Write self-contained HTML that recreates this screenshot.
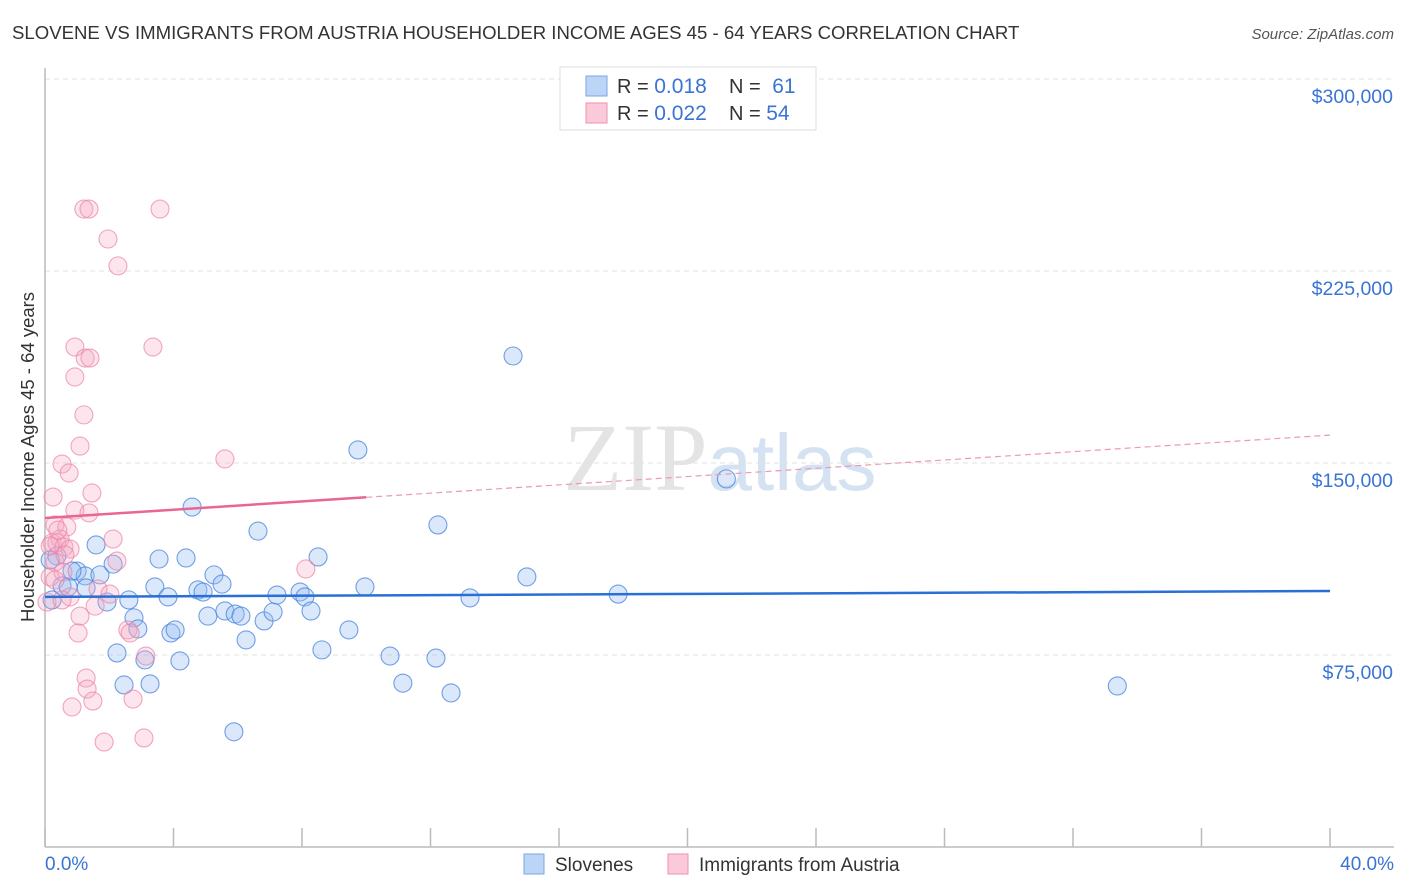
<!DOCTYPE html>
<html><head><meta charset="utf-8"><style>
body{margin:0;background:#fff;font-family:"Liberation Sans",sans-serif}
svg{display:block}
</style></head><body>
<svg id="c" width="1406" height="892">
<text x="12" y="39" font-size="18.6" fill="#333">SLOVENE VS IMMIGRANTS FROM AUSTRIA HOUSEHOLDER INCOME AGES 45 - 64 YEARS CORRELATION CHART</text>
<text x="1394" y="39" font-size="15" fill="#555" font-style="italic" text-anchor="end">Source: ZipAtlas.com</text>
<text x="720" y="490" font-size="96" fill="#e4e4e4" text-anchor="middle" font-family="Liberation Serif,serif">ZIP<tspan fill="#d4e2f2" font-family="Liberation Sans,sans-serif" font-size="80">atlas</tspan></text>
<g id="grid"></g>
<g id="marks"></g>
<text transform="translate(34,457) rotate(-90)" font-size="18.5" fill="#333" text-anchor="middle">Householder Income Ages 45 - 64 years</text>
<text x="45" y="870" font-size="19" fill="#3a74d4">0.0%</text>
<text x="1394" y="870" font-size="19" fill="#3a74d4" text-anchor="end">40.0%</text>
<g>
<rect x="560" y="67" width="256" height="63" fill="#fff" stroke="#ddd"/>
<rect x="586" y="76" width="21" height="20" fill="#bcd5f7" stroke="#7aa6e6"/>
<rect x="586" y="103" width="21" height="20" fill="#fbcada" stroke="#ef8fae"/>
<text x="617" y="93" font-size="20" fill="#333">R = <tspan fill="#3a74d4" font-size="21">0.018</tspan></text>
<text x="729" y="93" font-size="20" fill="#333">N = <tspan fill="#3a74d4" dx="6" font-size="21">61</tspan></text>
<text x="617" y="120" font-size="20" fill="#333">R = <tspan fill="#3a74d4" font-size="21">0.022</tspan></text>
<text x="729" y="120" font-size="20" fill="#333">N = <tspan fill="#3a74d4" font-size="21">54</tspan></text>
</g>
<g>
<rect x="524" y="854" width="20" height="20" fill="#bcd5f7" stroke="#7aa6e6"/>
<text x="555" y="871" font-size="19" fill="#333">Slovenes</text>
<rect x="668" y="854" width="20" height="20" fill="#fbcada" stroke="#ef8fae"/>
<text x="699" y="871" font-size="19" fill="#333">Immigrants from Austria</text>
</g>
</svg>
<script>
const yTicks=[75000,150000,225000,300000];
const yTickLabels=["$75,000","$150,000","$225,000","$300,000"];
const xTicks=[0,4,8,12,16,20,24,28,32,36,40];
const bluePts=[[0.37,113.7],[0.53,102],[0.72,101.6],[1.0,107.8],[1.25,105.9],[1.59,118],[1.71,106.3],[1.28,101.2],[1.93,95.7],[2.12,110.5],[2.24,75.8],[2.46,63.3],[2.61,96.5],[2.77,89.5],[2.89,85.2],[3.11,73.1],[3.27,63.7],[3.42,101.6],[3.55,112.5],[3.83,97.7],[3.92,83.6],[4.05,84.8],[4.2,72.7],[4.39,112.9],[4.58,132.8],[4.76,100.4],[4.92,99.6],[5.07,90.2],[5.26,106.3],[5.51,102.7],[5.6,92.2],[5.92,91],[6.1,90.2],[6.26,80.9],[5.88,45],[6.63,123.4],[6.82,88.3],[7.1,91.8],[7.22,98.4],[7.94,99.6],[8.09,97.7],[8.28,92.2],[8.5,113.3],[8.62,77],[9.46,84.8],[9.74,155.1],[9.96,101.6],[10.74,74.6],[11.14,64],[12.17,73.8],[12.23,125.8],[12.64,60.2],[13.23,97.3],[14.57,191.8],[15.0,105.5],[17.84,98.8],[21.21,143.8],[33.38,62.9],[0.16,112.1],[0.84,107.8],[0.22,96.5]];
const pinkPts=[[1.21,249.2],[1.37,249.2],[3.58,249.2],[1.96,237.5],[2.27,227],[0.93,195.3],[3.36,195.3],[1.25,191],[1.4,191],[0.93,183.6],[1.21,168.8],[1.09,156.6],[0.53,149.6],[0.75,146.1],[0.25,136.7],[1.46,138.3],[0.93,131.6],[1.37,130.5],[2.12,120.3],[0.31,125.8],[0.68,125],[0.47,120.3],[0.22,118.8],[0.37,118.8],[0.59,117.2],[0.78,116.4],[0.31,111.3],[0.16,105.5],[0.06,95.7],[0.56,107.4],[0.78,97.7],[2.24,111.7],[1.65,100.8],[2.02,98.8],[1.56,94.1],[1.09,90.2],[1.03,83.6],[2.58,84.8],[2.65,83.6],[3.14,74.6],[2.74,57.8],[1.28,66],[1.31,61.7],[1.49,57],[0.84,54.7],[1.84,41],[3.08,42.6],[5.6,151.6],[8.12,108.6],[0.31,104.3],[0.53,96.5],[0.62,114.1],[0.4,123.8],[0.16,117.6]];
const blueTrend=[97.7,100.0];
const pinkTrend=[128.5,160.9];
const pinkSolidEnd=10;
const X0=45,X1=1330,YB=847;
const xs=p=>X0+(X1-X0)*p/40;
const ys=v=>YB-v*192/75000;
const NS="http://www.w3.org/2000/svg";
function mk(t,a,parent){const e=document.createElementNS(NS,t);for(const k in a)e.setAttribute(k,a[k]);parent.appendChild(e);return e;}
const grid=document.getElementById('grid'),marks=document.getElementById('marks');
yTicks.forEach((v,i)=>{
 const l=mk('line',{x1:X0,x2:1394,y1:ys(v),y2:ys(v),stroke:'#e2e2e2','stroke-dasharray':'5,4'},grid);
 
 
 const t=mk('text',{x:1393,y:ys(v)+24,'font-size':19.5,fill:'#3a74d4','text-anchor':'end'},grid);
 t.textContent=yTickLabels[i];
 
 
});
const ax=mk('line',{x1:X0,x2:X0,y1:68,y2:YB,stroke:'#bbb','stroke-width':1.5},grid);


const bx=mk('line',{x1:X0,x2:1394,y1:YB,y2:YB,stroke:'#bbb','stroke-width':1.5},grid);


xTicks.forEach(p=>{const t=mk('line',{x1:xs(p),x2:xs(p),y1:828,y2:YB,stroke:'#bbb','stroke-width':1.5},grid);
 
 });
bluePts.forEach(d=>{const c=mk('circle',{cx:xs(d[0]),cy:ys(d[1]*1000),r:9,fill:'rgba(150,190,240,0.35)',stroke:'rgba(70,130,220,0.75)','stroke-width':1.1},marks);
 
 });
pinkPts.forEach(d=>{const c=mk('circle',{cx:xs(d[0]),cy:ys(d[1]*1000),r:9,fill:'rgba(246,170,195,0.3)',stroke:'rgba(236,130,165,0.7)','stroke-width':1.1},marks);
 
 });
const pAt=p=>pinkTrend[0]+(pinkTrend[1]-pinkTrend[0])*p/40;
const bt=mk('line',{x1:xs(0),x2:xs(40),y1:ys(blueTrend[0]*1000),y2:ys(blueTrend[1]*1000),stroke:'#2a6fd6','stroke-width':2.5},marks);


const pt=mk('line',{x1:xs(0),x2:xs(pinkSolidEnd),y1:ys(pAt(0)*1000),y2:ys(pAt(pinkSolidEnd)*1000),stroke:'#e8668f','stroke-width':2.5},marks);


const pd=mk('line',{x1:xs(pinkSolidEnd),x2:xs(40),y1:ys(pAt(pinkSolidEnd)*1000),y2:ys(pAt(40)*1000),stroke:'#eb9ab3','stroke-width':1.2,'stroke-dasharray':'6,4'},marks);


</script>
</body></html>
